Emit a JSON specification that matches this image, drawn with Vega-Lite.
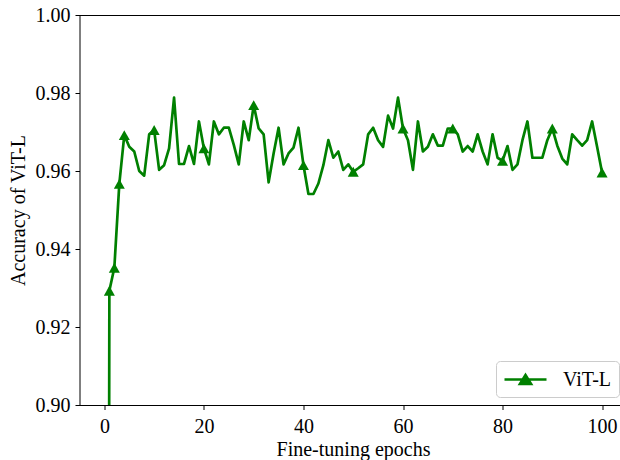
{
  "$schema": "https://vega.github.io/schema/vega-lite/v6.json",
  "width": 540,
  "height": 390,
  "autosize": {"type": "none"},
  "padding": {"left": 79.5, "top": 15, "right": 0.5, "bottom": 55},
  "background": "white",
  "config": {
    "view": {"stroke": null},
    "font": "Liberation Serif",
    "axis": {
      "labelFont": "Liberation Serif",
      "titleFont": "Liberation Serif",
      "labelFontSize": 20,
      "titleFontSize": 20,
      "titleFontWeight": "normal",
      "labelColor": "black",
      "titleColor": "black",
      "domainColor": "black",
      "tickColor": "black",
      "domainWidth": 1,
      "tickWidth": 1,
      "tickSize": 4.5,
      "grid": false
    }
  },
  "data": {
    "values": [
      {"epoch": 0, "acc": 0.10, "series": "ViT-L"},
      {"epoch": 1, "acc": 0.9293, "series": "ViT-L"},
      {"epoch": 2, "acc": 0.9352, "series": "ViT-L"},
      {"epoch": 3, "acc": 0.9567, "series": "ViT-L"},
      {"epoch": 4, "acc": 0.9692, "series": "ViT-L"},
      {"epoch": 5, "acc": 0.9662, "series": "ViT-L"},
      {"epoch": 6, "acc": 0.9650, "series": "ViT-L"},
      {"epoch": 7, "acc": 0.9600, "series": "ViT-L"},
      {"epoch": 8, "acc": 0.9588, "series": "ViT-L"},
      {"epoch": 9, "acc": 0.9694, "series": "ViT-L"},
      {"epoch": 10, "acc": 0.9705, "series": "ViT-L"},
      {"epoch": 11, "acc": 0.9603, "series": "ViT-L"},
      {"epoch": 12, "acc": 0.9615, "series": "ViT-L"},
      {"epoch": 13, "acc": 0.9658, "series": "ViT-L"},
      {"epoch": 14, "acc": 0.9788, "series": "ViT-L"},
      {"epoch": 15, "acc": 0.9618, "series": "ViT-L"},
      {"epoch": 16, "acc": 0.9618, "series": "ViT-L"},
      {"epoch": 17, "acc": 0.9664, "series": "ViT-L"},
      {"epoch": 18, "acc": 0.9618, "series": "ViT-L"},
      {"epoch": 19, "acc": 0.9727, "series": "ViT-L"},
      {"epoch": 20, "acc": 0.9658, "series": "ViT-L"},
      {"epoch": 21, "acc": 0.9617, "series": "ViT-L"},
      {"epoch": 22, "acc": 0.9727, "series": "ViT-L"},
      {"epoch": 23, "acc": 0.9694, "series": "ViT-L"},
      {"epoch": 24, "acc": 0.9711, "series": "ViT-L"},
      {"epoch": 25, "acc": 0.9711, "series": "ViT-L"},
      {"epoch": 26, "acc": 0.9667, "series": "ViT-L"},
      {"epoch": 27, "acc": 0.9617, "series": "ViT-L"},
      {"epoch": 28, "acc": 0.9727, "series": "ViT-L"},
      {"epoch": 29, "acc": 0.9679, "series": "ViT-L"},
      {"epoch": 30, "acc": 0.9769, "series": "ViT-L"},
      {"epoch": 31, "acc": 0.9709, "series": "ViT-L"},
      {"epoch": 32, "acc": 0.9694, "series": "ViT-L"},
      {"epoch": 33, "acc": 0.9571, "series": "ViT-L"},
      {"epoch": 34, "acc": 0.9645, "series": "ViT-L"},
      {"epoch": 35, "acc": 0.9711, "series": "ViT-L"},
      {"epoch": 36, "acc": 0.9617, "series": "ViT-L"},
      {"epoch": 37, "acc": 0.9645, "series": "ViT-L"},
      {"epoch": 38, "acc": 0.9660, "series": "ViT-L"},
      {"epoch": 39, "acc": 0.9711, "series": "ViT-L"},
      {"epoch": 40, "acc": 0.9615, "series": "ViT-L"},
      {"epoch": 41, "acc": 0.9541, "series": "ViT-L"},
      {"epoch": 42, "acc": 0.9541, "series": "ViT-L"},
      {"epoch": 43, "acc": 0.9568, "series": "ViT-L"},
      {"epoch": 44, "acc": 0.9615, "series": "ViT-L"},
      {"epoch": 45, "acc": 0.9679, "series": "ViT-L"},
      {"epoch": 46, "acc": 0.9634, "series": "ViT-L"},
      {"epoch": 47, "acc": 0.9650, "series": "ViT-L"},
      {"epoch": 48, "acc": 0.9603, "series": "ViT-L"},
      {"epoch": 49, "acc": 0.9617, "series": "ViT-L"},
      {"epoch": 50, "acc": 0.9598, "series": "ViT-L"},
      {"epoch": 51, "acc": 0.9607, "series": "ViT-L"},
      {"epoch": 52, "acc": 0.9617, "series": "ViT-L"},
      {"epoch": 53, "acc": 0.9694, "series": "ViT-L"},
      {"epoch": 54, "acc": 0.9711, "series": "ViT-L"},
      {"epoch": 55, "acc": 0.9679, "series": "ViT-L"},
      {"epoch": 56, "acc": 0.9662, "series": "ViT-L"},
      {"epoch": 57, "acc": 0.9742, "series": "ViT-L"},
      {"epoch": 58, "acc": 0.9709, "series": "ViT-L"},
      {"epoch": 59, "acc": 0.9788, "series": "ViT-L"},
      {"epoch": 60, "acc": 0.9709, "series": "ViT-L"},
      {"epoch": 61, "acc": 0.9679, "series": "ViT-L"},
      {"epoch": 62, "acc": 0.9603, "series": "ViT-L"},
      {"epoch": 63, "acc": 0.9727, "series": "ViT-L"},
      {"epoch": 64, "acc": 0.9650, "series": "ViT-L"},
      {"epoch": 65, "acc": 0.9662, "series": "ViT-L"},
      {"epoch": 66, "acc": 0.9694, "series": "ViT-L"},
      {"epoch": 67, "acc": 0.9665, "series": "ViT-L"},
      {"epoch": 68, "acc": 0.9665, "series": "ViT-L"},
      {"epoch": 69, "acc": 0.9709, "series": "ViT-L"},
      {"epoch": 70, "acc": 0.9709, "series": "ViT-L"},
      {"epoch": 71, "acc": 0.9694, "series": "ViT-L"},
      {"epoch": 72, "acc": 0.9650, "series": "ViT-L"},
      {"epoch": 73, "acc": 0.9664, "series": "ViT-L"},
      {"epoch": 74, "acc": 0.9650, "series": "ViT-L"},
      {"epoch": 75, "acc": 0.9694, "series": "ViT-L"},
      {"epoch": 76, "acc": 0.9650, "series": "ViT-L"},
      {"epoch": 77, "acc": 0.9617, "series": "ViT-L"},
      {"epoch": 78, "acc": 0.9694, "series": "ViT-L"},
      {"epoch": 79, "acc": 0.9634, "series": "ViT-L"},
      {"epoch": 80, "acc": 0.9626, "series": "ViT-L"},
      {"epoch": 81, "acc": 0.9664, "series": "ViT-L"},
      {"epoch": 82, "acc": 0.9603, "series": "ViT-L"},
      {"epoch": 83, "acc": 0.9617, "series": "ViT-L"},
      {"epoch": 84, "acc": 0.9679, "series": "ViT-L"},
      {"epoch": 85, "acc": 0.9727, "series": "ViT-L"},
      {"epoch": 86, "acc": 0.9634, "series": "ViT-L"},
      {"epoch": 87, "acc": 0.9634, "series": "ViT-L"},
      {"epoch": 88, "acc": 0.9634, "series": "ViT-L"},
      {"epoch": 89, "acc": 0.9679, "series": "ViT-L"},
      {"epoch": 90, "acc": 0.9709, "series": "ViT-L"},
      {"epoch": 91, "acc": 0.9665, "series": "ViT-L"},
      {"epoch": 92, "acc": 0.9632, "series": "ViT-L"},
      {"epoch": 93, "acc": 0.9617, "series": "ViT-L"},
      {"epoch": 94, "acc": 0.9694, "series": "ViT-L"},
      {"epoch": 95, "acc": 0.9679, "series": "ViT-L"},
      {"epoch": 96, "acc": 0.9665, "series": "ViT-L"},
      {"epoch": 97, "acc": 0.9679, "series": "ViT-L"},
      {"epoch": 98, "acc": 0.9727, "series": "ViT-L"},
      {"epoch": 99, "acc": 0.9662, "series": "ViT-L"},
      {"epoch": 100, "acc": 0.9596, "series": "ViT-L"}
    ]
  },
  "layer": [
    {
      "mark": {"type": "line", "clip": true, "strokeWidth": 2.7, "strokeJoin": "round", "strokeCap": "square"},
      "encoding": {
        "x": {
          "field": "epoch", "type": "quantitative",
          "scale": {"domain": [-5, 103.5], "nice": false, "zero": false},
          "axis": {"values": [0, 20, 40, 60, 80, 100], "title": "Fine-tuning epochs", "labelFont": "Liberation Serif", "labelFontSize": 20, "titleFont": "Liberation Serif", "labelPadding": 7, "titlePadding": 3, "titleX": 273.5, "titleAlign": "center", "titleAnchor": null}
        },
        "y": {
          "field": "acc", "type": "quantitative",
          "scale": {"domain": [0.9, 1.0], "nice": false, "zero": false},
          "axis": {"values": [0.90, 0.92, 0.94, 0.96, 0.98, 1.00], "format": ".2f", "title": "Accuracy of ViT-L", "labelFont": "Liberation Serif", "labelFontSize": 20, "titleFont": "Liberation Serif", "labelPadding": 5, "titlePadding": 7}
        },
        "color": {
          "field": "series", "type": "nominal",
          "scale": {"range": ["#008000"]},
          "legend": {
            "title": null,
            "orient": "none",
            "legendX": 416.5,
            "legendY": 346,
            "padding": 7,
            "strokeColor": "#cccccc",
            "fillColor": "white",
            "cornerRadius": 4,
            "labelFont": "Liberation Serif",
            "labelFontSize": 20,
            "labelColor": "black",
            "labelOffset": 37,
            "symbolType": "M-1,0L3.2,0M0.55,0.45L1.65,0.45L1.1,-0.45Z",
            "symbolSize": 400,
            "symbolStrokeWidth": 2.7,
            "encode": {
              "symbols": {"update": {"fill": {"value": "#008000"}, "stroke": {"value": "#008000"}, "strokeWidth": {"value": 2.7}, "opacity": {"value": 1}}}
            }
          }
        }
      }
    },
    {
      "transform": [{"filter": {"field": "epoch", "oneOf": [0, 1, 2, 3, 4, 10, 20, 30, 40, 50, 60, 70, 80, 90, 100]}}],
      "mark": {"type": "point", "clip": true, "filled": true, "opacity": 1, "color": "#008000", "shape": "M0,-0.9L1,0.9L-1,0.9Z", "size": 121},
      "encoding": {
        "x": {
          "field": "epoch", "type": "quantitative",
          "axis": {"orient": "top", "labels": false, "ticks": false, "title": null, "domainColor": "black"}
        },
        "y": {"field": "acc", "type": "quantitative"}
      }
    }
  ],
  "resolve": {"axis": {"x": "independent"}}
}
